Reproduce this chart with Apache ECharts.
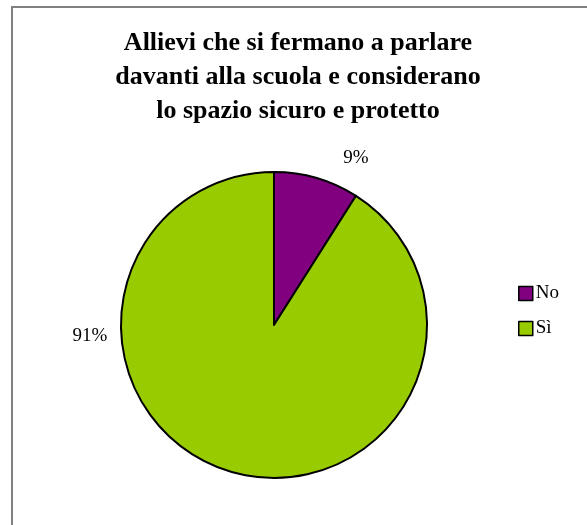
<!DOCTYPE html>
<html>
<head>
<meta charset="utf-8">
<script src="https://cdn.jsdelivr.net/npm/echarts@6/dist/echarts.min.js"></script>
<style>
  html, body { margin: 0; padding: 0; background: #ffffff; }
  #chart { width: 587px; height: 525px; }
</style>
</head>
<body>
<div id="chart"></div>
<script>
// Survey answers: share of pupils per answer (percent)
const categories = ['No', 'Sì'];
const values = [9, 91];
const colors = ['#800080', '#99CC00'];
const titleText = 'Allievi che si fermano a parlare\ndavanti alla scuola e considerano\nlo spazio sicuro e protetto';

const FONT = '"Liberation Serif", "Times New Roman", serif';

// where each percentage label sits next to its slice
const labelSpots = [
  { x: 356, y: 158 },
  { x: 90, y: 336 }
];

const chart = echarts.init(document.getElementById('chart'), null, { renderer: 'canvas' });

chart.setOption({
  backgroundColor: '#ffffff',
  animation: false,
  title: {
    text: titleText,
    left: 293,
    top: 21,
    textAlign: 'center',
    textStyle: {
      fontFamily: FONT,
      fontWeight: 'bold',
      fontSize: 26,
      lineHeight: 34,
      color: '#000000'
    }
  },
  legend: {
    orient: 'vertical',
    left: 513,
    top: 279,
    itemWidth: 14,
    itemHeight: 14,
    itemGap: 16,
    icon: 'rect',
    data: categories,
    textStyle: { fontFamily: FONT, fontSize: 19, color: '#000000', padding: [0, 0, 0, -2] },
    itemStyle: { borderColor: '#000000', borderWidth: 1.5 }
  },
  graphic: [{
    type: 'rect',
    shape: { x: 12, y: 7, width: 700, height: 700 },
    style: { fill: 'none', stroke: '#808080', lineWidth: 2 },
    silent: true,
    z: -1
  }],
  series: [{
    type: 'pie',
    center: [274, 325],
    radius: 153,
    startAngle: 90,
    clockwise: true,
    avoidLabelOverlap: false,
    itemStyle: { borderColor: '#000000', borderWidth: 2 },
    label: {
      show: true,
      position: 'outside',
      formatter: p => p.value + '%',
      fontFamily: FONT,
      fontSize: 19,
      color: '#000000'
    },
    labelLine: { show: false },
    labelLayout: p => ({
      x: labelSpots[p.dataIndex].x,
      y: labelSpots[p.dataIndex].y,
      align: 'center',
      verticalAlign: 'middle'
    }),
    emphasis: { disabled: true },
    data: categories.map((name, i) => ({
      name: name,
      value: values[i],
      itemStyle: { color: colors[i] }
    }))
  }]
});
</script>
</body>
</html>
